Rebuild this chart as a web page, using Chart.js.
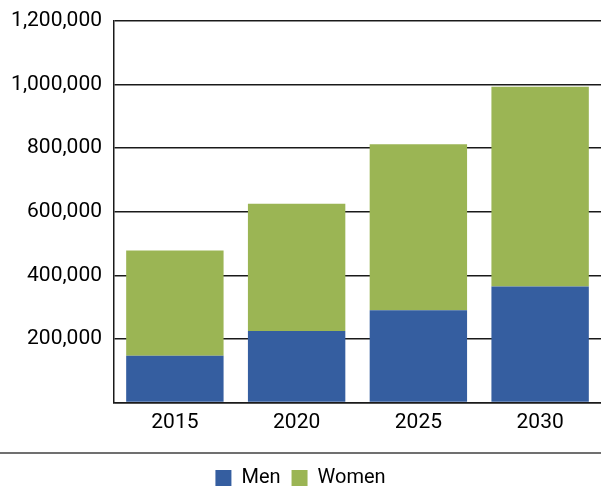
<!DOCTYPE html>
<html><head><meta charset="utf-8">
<script src="https://cdn.jsdelivr.net/npm/chart.js@4/dist/chart.umd.min.js"></script>
<style>html,body{margin:0;padding:0;background:#fff;overflow:hidden}#wrap{width:601px;height:488px;position:relative}</style>
</head><body><div id="wrap"><canvas id="c"></canvas></div>
<script>
const categories = ['2015', '2020', '2025', '2030'];
const men = [147000, 225000, 290000, 365000];
const women = [331000, 400000, 522000, 628000];
const yTicks = [0, 200000, 400000, 600000, 800000, 1000000, 1200000];
const seriesNames = ['Men', 'Women'];

const separator = {
  id: 'separator',
  afterDraw(chart) {
    const ctx = chart.ctx;
    const y = chart.chartArea.bottom + 50.5;
    ctx.save();
    ctx.strokeStyle = '#707070';
    ctx.lineWidth = 2;
    ctx.beginPath();
    ctx.moveTo(0, y);
    ctx.lineTo(chart.width, y);
    ctx.stroke();
    ctx.restore();
  }
};

new Chart(document.getElementById('c'), {
  type: 'bar',
  data: {
    labels: categories,
    datasets: [
      { label: seriesNames[0], data: men, backgroundColor: '#355EA0', borderWidth: 0 },
      { label: seriesNames[1], data: women, backgroundColor: '#9BB554', borderWidth: 0 }
    ]
  },
  options: {
    responsive: true,
    maintainAspectRatio: false,
    animation: false,
    layout: { padding: { top: 21, right: 0, left: 0, bottom: -10 } },
    datasets: { bar: { barPercentage: 0.8, categoryPercentage: 1.0 } },
    plugins: {
      tooltip: { enabled: false },
      legend: {
        position: 'bottom',
        labels: {
          boxWidth: 16, boxHeight: 16, padding: 11,
          color: '#000',
          font: { family: 'Roboto', size: 20 }
        }
      }
    },
    scales: {
      x: {
        stacked: true,
        grid: { display: false, drawTicks: false },
        border: { display: true, color: '#1a1a1a', width: 1.5 },
        ticks: { color: '#000', padding: 8, font: { family: 'Roboto', size: 21 } },
        afterFit(s) { s.height = 54.5; }
      },
      y: {
        stacked: true,
        min: 0, max: 1200000,
        afterBuildTicks(s) { s.ticks = yTicks.map(v => ({ value: v })); },
        grid: { color: '#1a1a1a', lineWidth: 1.5, drawTicks: false },
        border: { display: true, color: '#1a1a1a', width: 1.5 },
        ticks: {
          color: '#000', padding: 12,
          font: { family: 'Roboto', size: 21 },
          callback: v => v === 0 ? '' : v.toLocaleString('en-US')
        },
        afterFit(s) { s.width = 114; s.paddingTop = 0; s.paddingBottom = 0; }
      }
    }
  },
  plugins: [separator]
});
</script></body></html>
